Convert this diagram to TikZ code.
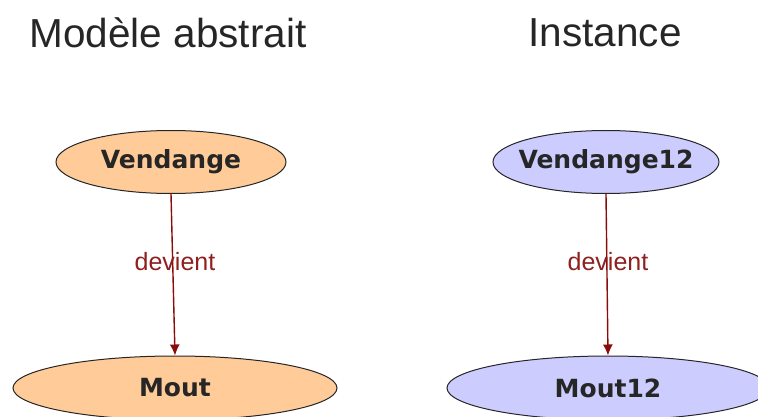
\documentclass[tikz,border=0pt]{standalone}
\usepackage{fontspec}
\setmainfont{Liberation Sans}
\newfontfamily\nodefont{DejaVu Sans}
\usetikzlibrary{shapes.geometric,arrows.meta}
\definecolor{peach}{HTML}{FFCC99}
\definecolor{lav}{HTML}{CCCCFF}
\definecolor{arrred}{HTML}{8B0A0A}
\definecolor{lblred}{HTML}{8E2020}
\tikzset{
  ell/.style={ellipse, draw=black!85, line width=1pt, inner ysep=0pt, inner xsep=-40pt,
    font=\nodefont\bfseries\fontsize{25}{27}\selectfont, text=black!85},
  ttl/.style={font=\fontsize{40.5}{42}\selectfont, text=black!85, inner sep=0pt},
  conn/.style={draw=arrred, line width=1.4pt, -{Latex[length=11pt,width=10pt]}},
  lbl/.style={font=\fontsize{25}{27}\selectfont, text=lblred, inner sep=0pt}
}
\begin{document}
\begin{tikzpicture}[x=1pt,y=-1pt]
\useasboundingbox (0,0) rectangle (758,417);
\node[ttl] (t1) at (168,33) {Modèle abstrait};
\node[ttl] (t2) at (605,33) {Instance};
\node[ell, fill=peach, minimum width=230, minimum height=63] (v) at (171,162) {Vendange};
\node[ell, fill=peach, minimum width=324, minimum height=64] (m) at (175,388) {Mout};
\node[ell, fill=lav, minimum width=226, minimum height=63] (v2) at (606,162) {Vendange12};
\node[ell, fill=lav, minimum width=322, minimum height=64] (m2) at (608,388) {Mout12};
\draw[conn] (v.south) -- (m.north);
\draw[conn] (v2.south) -- (m2.north);
\node[lbl] (l1) at (175,262) {devient};
\node[lbl] (l2) at (608,262) {devient};
\end{tikzpicture}
\end{document}
